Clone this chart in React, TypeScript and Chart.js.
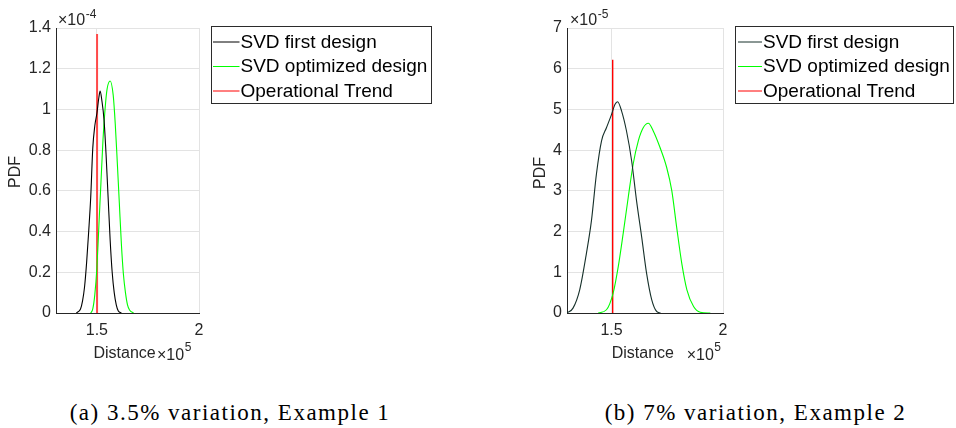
import React, { useEffect, useRef } from "react";
import { Chart, registerables } from "chart.js";
Chart.register(...registerables);

// ---------- DATA (x in units of 1e5, y in units of 1e-4 for (a) and 1e-5 for (b)) ----------
const SERIES_NAMES = ["SVD first design", "SVD optimized design", "Operational Trend"];
const X_TICKS = [1.5, 2];
const X_EXP = "5";

// Panel (a): 3.5% variation, Example 1
const A_FIRST_X = [1.40, 1.42, 1.43, 1.44, 1.45, 1.46, 1.47, 1.48, 1.49, 1.50, 1.51, 1.516, 1.525, 1.535, 1.545, 1.555, 1.565, 1.575, 1.585, 1.595, 1.605, 1.62];
const A_FIRST_Y = [0, 0.02, 0.06, 0.13, 0.25, 0.40, 0.57, 0.81, 0.92, 0.98, 1.06, 1.09, 1.04, 0.95, 0.78, 0.57, 0.36, 0.20, 0.10, 0.04, 0.01, 0];
const A_OPT_X = [1.47, 1.48, 1.49, 1.50, 1.51, 1.52, 1.53, 1.54, 1.55, 1.565, 1.58, 1.59, 1.60, 1.61, 1.62, 1.63, 1.64, 1.65, 1.66, 1.68];
const A_OPT_Y = [0, 0.02, 0.09, 0.22, 0.43, 0.64, 0.85, 1.00, 1.10, 1.14, 1.07, 0.93, 0.74, 0.54, 0.34, 0.19, 0.10, 0.04, 0.015, 0];
const A_TREND_X = [1.501, 1.501];
const A_TREND_Y = [0, 1.37];
const A_Y_MAX = 1.4;
const A_Y_STEP = 0.2;
const A_Y_EXP = "-4";

// Panel (b): 7% variation, Example 2
const B_FIRST_X = [1.30, 1.327, 1.357, 1.387, 1.41, 1.432, 1.455, 1.477, 1.50, 1.515, 1.527, 1.545, 1.567, 1.59, 1.612, 1.635, 1.657, 1.68, 1.702, 1.72];
const B_FIRST_Y = [0, 0.12, 0.57, 1.46, 2.28, 3.41, 4.23, 4.55, 4.88, 5.12, 5.19, 4.96, 4.47, 3.74, 2.76, 1.87, 0.98, 0.33, 0.04, 0];
const B_OPT_X = [1.44, 1.477, 1.507, 1.53, 1.552, 1.575, 1.597, 1.62, 1.642, 1.665, 1.687, 1.717, 1.747, 1.77, 1.792, 1.815, 1.838, 1.868, 1.898, 1.943];
const B_OPT_Y = [0, 0.08, 0.49, 1.14, 1.95, 2.85, 3.66, 4.23, 4.55, 4.66, 4.47, 4.07, 3.58, 3.01, 2.11, 1.22, 0.57, 0.16, 0.02, 0];
const B_TREND_X = [1.505, 1.505];
const B_TREND_Y = [0, 6.22];
const B_Y_MAX = 7;
const B_Y_STEP = 1;
const B_Y_EXP = "-5";

const X_MIN = 1.3;
const X_MAX = 2;

const CAPTION_A = "(a) 3.5% variation, Example 1";
const CAPTION_B = "(b) 7% variation, Example 2";

// ---------- helpers ----------
const pts = (xs: number[], ys: number[]) => xs.map((x, i) => ({ x, y: ys[i] }));
const SANS = "'Liberation Sans', Arial, Helvetica, sans-serif";
const AXIS_COLOR = "#262626";

type Panel = {
  left: number;
  width: number;
  height: number;
  padLeft: number;
  yWidth: number;
  padRight: number;
  padTop: number;
  xHeight: number;
  yMax: number;
  yStep: number;
  yExp: string;
  first: { x: number; y: number }[];
  opt: { x: number; y: number }[];
  trend: { x: number; y: number }[];
  firstColor: string;
  trendColor: string;
  trendWidth: number;
  legend: { l: number; t: number; r: number; b: number; lineX0: number; lineX1: number; textX: number; rows: number[] };
  pdf: { x: number; y: number };
  yExpX: number;
  distX: number;
  xExpX: number;
};

const PANEL_A: Panel = {
  left: 0, width: 478, height: 370,
  padLeft: 0, yWidth: 56, padRight: 279, padTop: 28, xHeight: 57,
  yMax: A_Y_MAX, yStep: A_Y_STEP, yExp: A_Y_EXP,
  first: pts(A_FIRST_X, A_FIRST_Y), opt: pts(A_OPT_X, A_OPT_Y), trend: pts(A_TREND_X, A_TREND_Y),
  firstColor: "#000000", trendColor: "#ff4a4a", trendWidth: 2,
  legend: { l: 211.5, t: 26.5, r: 431.5, b: 103.5, lineX0: 213, lineX1: 239.5, textX: 240.5, rows: [41.5, 66, 90.5] },
  pdf: { x: 16, y: 172 },
  yExpX: 58, distX: 93.5, xExpX: 157,
};

const PANEL_B: Panel = {
  left: 478, width: 478, height: 370,
  padLeft: 33, yWidth: 56, padRight: 233, padTop: 28, xHeight: 57,
  yMax: B_Y_MAX, yStep: B_Y_STEP, yExp: B_Y_EXP,
  first: pts(B_FIRST_X, B_FIRST_Y), opt: pts(B_OPT_X, B_OPT_Y), trend: pts(B_TREND_X, B_TREND_Y),
  firstColor: "#16302a", trendColor: "#ff0000", trendWidth: 1.4,
  legend: { l: 257.5, t: 26.5, r: 475.5, b: 103.5, lineX0: 260, lineX1: 284, textX: 285, rows: [41.5, 66, 90.5] },
  pdf: { x: 62.7, y: 173 },
  yExpX: 92, distX: 133.7, xExpX: 208.7,
};

function makeConfig(p: Panel): any {
  const overlay = {
    id: "overlay",
    afterDraw(chart: any) {
      const ctx = chart.ctx as CanvasRenderingContext2D;
      ctx.save();
      ctx.fillStyle = AXIS_COLOR;
      ctx.font = `16px ${SANS}`;
      ctx.textAlign = "left";
      ctx.textBaseline = "alphabetic";
      ctx.fillText("\u00d710", p.yExpX, 25);
      const w10 = ctx.measureText("\u00d710").width;
      ctx.font = `12px ${SANS}`;
      ctx.fillText(p.yExp, p.yExpX + w10 + 0.5, 17.5);

      ctx.font = `16px ${SANS}`;
      ctx.fillText("Distance", p.distX, 358);
      ctx.fillText("\u00d710", p.xExpX, 359.5);
      const w10b = ctx.measureText("\u00d710").width;
      ctx.font = `12px ${SANS}`;
      ctx.fillText(X_EXP, p.xExpX + w10b + 0.5, 350.5);

      ctx.save();
      ctx.translate(p.pdf.x, p.pdf.y);
      ctx.rotate(-Math.PI / 2);
      ctx.font = `16px ${SANS}`;
      ctx.textAlign = "center";
      ctx.textBaseline = "middle";
      ctx.fillText("PDF", 0, 0);
      ctx.restore();

      const L = p.legend;
      ctx.fillStyle = "#ffffff";
      ctx.fillRect(L.l, L.t, L.r - L.l, L.b - L.t);
      ctx.strokeStyle = "#2b2b2b";
      ctx.lineWidth = 1;
      ctx.strokeRect(L.l, L.t, L.r - L.l, L.b - L.t);
      const colors = [p.firstColor, "#00ff00", "#ff0000"];
      ctx.font = `19px ${SANS}`;
      ctx.textAlign = "left";
      ctx.textBaseline = "middle";
      SERIES_NAMES.forEach((name, i) => {
        const y = L.rows[i];
        ctx.strokeStyle = colors[i];
        ctx.lineWidth = 1;
        ctx.beginPath();
        ctx.moveTo(L.lineX0, y + 0.5);
        ctx.lineTo(L.lineX1, y + 0.5);
        ctx.stroke();
        ctx.fillStyle = "#000000";
        ctx.fillText(name, L.textX, y + 1);
      });
      ctx.restore();
    },
  };

  return {
    type: "line",
    data: {
      datasets: [
        { label: SERIES_NAMES[0], data: p.first, borderColor: p.firstColor, borderWidth: 1.1, pointRadius: 0, cubicInterpolationMode: "monotone", fill: false },
        { label: SERIES_NAMES[1], data: p.opt, borderColor: "#00ff00", borderWidth: 1.1, pointRadius: 0, cubicInterpolationMode: "monotone", fill: false },
        { label: SERIES_NAMES[2], data: p.trend, borderColor: p.trendColor, borderWidth: p.trendWidth, pointRadius: 0, tension: 0, fill: false },
      ],
    },
    options: {
      responsive: false,
      animation: false,
      events: [],
      layout: { padding: { left: p.padLeft, right: p.padRight, top: p.padTop, bottom: 0 } },
      plugins: { legend: { display: false }, tooltip: { enabled: false }, title: { display: false } },
      scales: {
        x: {
          type: "linear",
          min: X_MIN,
          max: X_MAX,
          afterBuildTicks: (s: any) => { s.ticks = X_TICKS.map((v) => ({ value: v })); },
          afterFit: (s: any) => { s.height = p.xHeight; },
          grid: { color: "#e3e3e3", drawTicks: false, lineWidth: 1 },
          border: { display: true, color: AXIS_COLOR, width: 1 },
          ticks: {
            padding: 8,
            color: AXIS_COLOR,
            font: { family: SANS, size: 16 },
            maxRotation: 0,
            autoSkip: false,
            callback: (v: any) => String(+Number(v).toFixed(2)),
          },
        },
        y: {
          type: "linear",
          min: 0,
          max: p.yMax,
          afterFit: (s: any) => { s.width = p.yWidth; },
          grid: { color: "#e3e3e3", drawTicks: false, lineWidth: 1 },
          border: { display: true, color: AXIS_COLOR, width: 1 },
          ticks: {
            stepSize: p.yStep,
            padding: 5,
            color: AXIS_COLOR,
            font: { family: SANS, size: 16 },
            callback: (v: any) => String(+Number(v).toFixed(2)),
          },
        },
      },
    },
    plugins: [overlay],
  };
}

function PanelChart({ p }: { p: Panel }) {
  const ref = useRef<HTMLCanvasElement | null>(null);
  useEffect(() => {
    if (!ref.current) return;
    const chart = new Chart(ref.current, makeConfig(p));
    return () => chart.destroy();
  }, [p]);
  return (
    <canvas
      ref={ref}
      width={p.width}
      height={p.height}
      style={{ position: "absolute", left: p.left, top: 0, width: p.width, height: p.height }}
    />
  );
}

const captionStyle = (cx: number): React.CSSProperties => ({
  position: "absolute",
  left: cx - 250,
  width: 500,
  top: 401,
  height: 24,
  lineHeight: "24px",
  textAlign: "center",
  fontFamily: "'Liberation Serif', 'Times New Roman', serif",
  fontSize: 23,
  letterSpacing: 1.5,
  color: "#000",
  whiteSpace: "nowrap",
});

export default function App() {
  return (
    <div style={{ position: "fixed", left: 0, top: 0, width: 956, height: 428, background: "#fff", overflow: "hidden" }}>
      <PanelChart p={PANEL_A} />
      <PanelChart p={PANEL_B} />
      <div style={captionStyle(230)}>{CAPTION_A}</div>
      <div style={captionStyle(755.5)}>{CAPTION_B}</div>
    </div>
  );
}
